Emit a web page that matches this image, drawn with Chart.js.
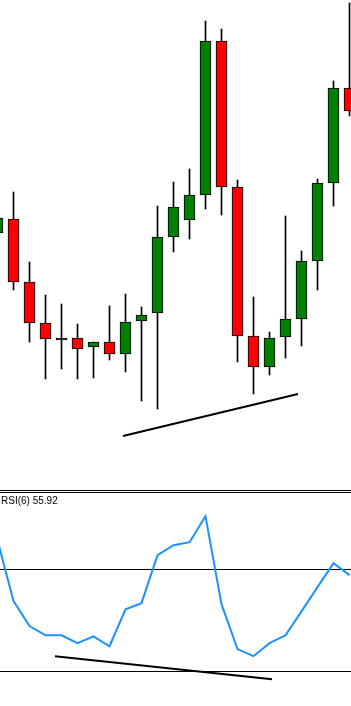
<!doctype html>
<html lang="en">
  <head>
    <meta charset="utf-8">
    <title>Candles with RSI(6)</title>
    <script src="https://cdn.jsdelivr.net/npm/chart.js"></script>
    <style>
      body {
        margin: 0;
        background: #fff;
        overflow: hidden;
      }
      #priceWrap {
        position: absolute;
        left: 0;
        top: 0;
        width: 351px;
        height: 486px;
      }
      #rsiWrap {
        position: absolute;
        left: 0;
        top: 493px;
        width: 351px;
        height: 213px;
      }
      .sep {
        position: absolute;
        left: 0;
        width: 351px;
        height: 1px;
        background: #000;
      }
      #rsiLabel {
        position: absolute;
        left: 1px;
        top: 495px;
        font: 10px "Liberation Sans", Arial, sans-serif;
        color: #000;
      }
    </style>
  </head>
  <body>
    <div id="priceWrap"><canvas id="priceChart" width="351" height="486"></canvas></div>
    <div class="sep" style="top:490px"></div>
    <div class="sep" style="top:492px"></div>
    <div id="rsiWrap"><canvas id="rsiChart" width="351" height="213"></canvas></div>
    <div id="rsiLabel">RSI(6) 55.92</div>

    <script>
      // bar index (first one is cut off at the left edge)
      const bars = [0, 1, 2, 3, 4, 5, 6, 7, 8, 9, 10, 11, 12, 13, 14, 15, 16, 17, 18, 19, 20, 21, 22];
      const opens  = [124.7, 126.1, 119.8, 115.7, 114.2, 114.2, 113.3, 113.8, 112.6, 115.9, 116.7, 124.3, 126.0, 128.5, 143.9, 129.3, 114.4, 111.3, 114.3, 116.1, 121.9, 129.7, 139.2];
      const highs  = [126.8, 128.8, 121.8, 118.5, 117.6, 115.6, 113.8, 117.4, 118.6, 117.3, 127.4, 129.8, 131.1, 145.9, 145.1, 130.0, 118.3, 114.8, 126.4, 122.9, 130.1, 139.9, 147.7];
      const lows   = [124.0, 119.0, 113.8, 110.1, 111.1, 110.1, 110.2, 112.0, 110.8, 107.9, 107.1, 122.8, 124.1, 127.1, 126.5, 111.8, 108.6, 110.5, 112.2, 113.4, 119.0, 127.4, 136.4];
      const closes = [126.2, 119.8, 115.7, 114.1, 114.0, 113.1, 113.8, 112.6, 115.8, 116.5, 124.3, 127.3, 128.5, 143.9, 129.3, 114.4, 111.3, 114.2, 116.1, 121.9, 129.7, 139.2, 136.9];

      const rsi6 = [81.5, 57.6, 47.8, 44.2, 44.2, 41.1, 43.8, 39.9, 54.4, 56.8, 75.6, 79.5, 80.7, 90.9, 56.4, 38.8, 36.0, 41.1, 44.2, 53.6, 63.1, 72.5, 67.8];
      const rsiLevels = [70, 30];

      // hand-drawn divergence lines
      const priceTrendX = [7.84, 18.78];
      const priceTrendY = [104.4, 108.6];
      const rsiTrendX = [3.59, 17.16];
      const rsiTrendY = [36.0, 27.0];

      const xMin = 0.15625;
      const xMax = 22.09375;

      const UP = '#008000';
      const DOWN = '#ff0000';

      function bodyColor(i) {
        const diff = closes[i] - opens[i];
        if (Math.abs(diff) < 0.3) return '#000'; // doji: just a flat black bar
        return diff > 0 ? UP : DOWN;
      }

      function xScale() {
        return { type: 'linear', min: xMin, max: xMax, offset: false, display: false };
      }

      const baseOptions = {
        responsive: false,
        animation: false,
        devicePixelRatio: 1,
        layout: { padding: 0 },
        plugins: {
          legend: { display: false },
          tooltip: { enabled: false }
        }
      };

      // candles: wicks and bodies as floating bars
      new Chart(document.getElementById('priceChart'), {
        type: 'bar',
        data: {
          datasets: [
            {
              label: 'wick',
              data: bars.map(i => ({ x: i, y: [lows[i], highs[i]] })),
              backgroundColor: '#000',
              barThickness: 1,
              grouped: false,
              order: 3
            },
            {
              label: 'body',
              data: bars.map(i => ({ x: i, y: [opens[i], closes[i]] })),
              backgroundColor: bars.map(bodyColor),
              borderColor: '#000',
              borderWidth: 1,
              borderSkipped: false,
              barThickness: 11,
              grouped: false,
              order: 2
            },
            {
              type: 'line',
              label: 'trend',
              data: priceTrendX.map((x, j) => ({ x: x, y: priceTrendY[j] })),
              borderColor: '#000',
              borderWidth: 2,
              pointRadius: 0,
              order: 1
            }
          ]
        },
        options: {
          ...baseOptions,
          scales: {
            x: xScale(),
            y: { min: 99.4, max: 148, display: false }
          }
        }
      });

      // RSI panel
      const rsiDatasets = [
        {
          label: 'RSI(6)',
          data: bars.map(i => ({ x: i, y: rsi6[i] })),
          borderColor: '#1e90ff',
          borderWidth: 2,
          pointRadius: 0,
          tension: 0
        },
        {
          label: 'div',
          data: rsiTrendX.map((x, j) => ({ x: x, y: rsiTrendY[j] })),
          borderColor: '#000',
          borderWidth: 2,
          pointRadius: 0
        }
      ];
      rsiLevels.forEach(lv => {
        rsiDatasets.push({
          label: 'level ' + lv,
          data: [{ x: xMin, y: lv }, { x: xMax, y: lv }],
          borderColor: '#000',
          borderWidth: 1,
          pointRadius: 0
        });
      });

      new Chart(document.getElementById('rsiChart'), {
        type: 'line',
        data: { datasets: rsiDatasets },
        options: {
          ...baseOptions,
          clip: false,
          scales: {
            x: xScale(),
            y: { min: 100 - 213 / 2.55, max: 100, display: false }
          }
        }
      });
    </script>
  </body>
</html>
